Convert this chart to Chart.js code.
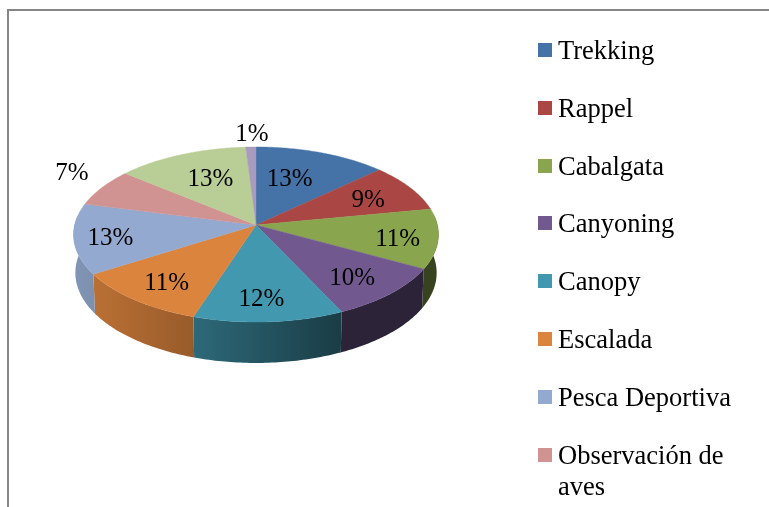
<!DOCTYPE html>
<html><head><meta charset="utf-8">
<style>html,body{margin:0;padding:0;background:#fff;overflow:hidden}canvas{display:block}</style>
<script src="https://cdn.jsdelivr.net/npm/chart.js@4"></script>
</head><body><canvas id="c" width="769" height="507"></canvas>
<script>
const categories = ["Trekking","Rappel","Cabalgata","Canyoning","Canopy","Escalada","Pesca Deportiva","Observación de aves"];
const shares = [13,9,11,10,12,11,13,7,13,1];
const sliceColors = ["#4572A7","#AA4643","#89A54E","#71588F","#4198AF","#DB843D","#93A9CF","#D19392","#B9CD96","#A99BBD"];
const labelNudgeX = [-7,18,33,18,-2,-19,-37,-90,1,-1];
const labelNudgeY = [-1,-2,6,14,19,15,5,-29,-2,-42];

const view = {cx:256, cy:225, a:181.4, b:86.5, k:0.1086, wallX0:74, wallX1:438};
function project(theta, r){
  const u = r*Math.sin(theta), v = -r*Math.cos(theta), w = 1 - view.k*v;
  return {x:view.cx + view.a*u/w, y:view.cy + view.b*v/w};
}
function lower(p){
  return {x:view.cx + (p.x-view.cx)*0.99, y:p.y + 38 + 0.03*(p.y-view.cy)};
}
function shade(hex, f){
  const n = parseInt(hex.slice(1),16);
  return `rgb(${Math.round((n>>16&255)*f)},${Math.round((n>>8&255)*f)},${Math.round((n&255)*f)})`;
}
const pie3d = {
  id:'pie3d',
  beforeDatasetsDraw(chart){
    const ctx = chart.ctx, arcs = chart.getDatasetMeta(0).data;
    ctx.save();
    // frame
    ctx.fillStyle = '#868686';
    ctx.fillRect(7,9,762,2);
    ctx.fillRect(7,9,2,498);
    // walls
    const wallA = Math.acos(view.k), wallB = 2*Math.PI - wallA;
    arcs.forEach((arc,i)=>{
      const s = Math.max(arc.startAngle+Math.PI/2, wallA), e = Math.min(arc.endAngle+Math.PI/2, wallB);
      if (e <= s) return;
      const top = [], N = 48;
      for (let j=0;j<=N;j++) top.push(project(s+(e-s)*j/N,1));
      const g = ctx.createLinearGradient(view.wallX0,0,view.wallX1,0), c = sliceColors[i];
      g.addColorStop(0, shade(c,.88)); g.addColorStop(.32, shade(c,.7));
      g.addColorStop(.73, shade(c,.4)); g.addColorStop(1, shade(c,.4));
      ctx.fillStyle = g;
      ctx.beginPath();
      top.forEach((p,j)=> j?ctx.lineTo(p.x,p.y):ctx.moveTo(p.x,p.y));
      top.slice().reverse().forEach(p=>{const q=lower(p);ctx.lineTo(q.x,q.y);});
      ctx.closePath(); ctx.fill();
    });
    // top faces
    arcs.forEach((arc,i)=>{
      const s = arc.startAngle+Math.PI/2, e = arc.endAngle+Math.PI/2, N = 64;
      ctx.fillStyle = sliceColors[i];
      ctx.strokeStyle = sliceColors[i]; ctx.lineWidth = .4;
      ctx.beginPath(); ctx.moveTo(view.cx,view.cy);
      for (let j=0;j<=N;j++){const p=project(s+(e-s)*j/N,1);ctx.lineTo(p.x,p.y);}
      ctx.closePath(); ctx.fill(); ctx.stroke();
    });
    // labels
    ctx.fillStyle = '#000';
    ctx.font = '25px "Liberation Serif"';
    ctx.textAlign = 'center'; ctx.textBaseline = 'middle';
    const total = shares.reduce((a,b)=>a+b,0);
    arcs.forEach((arc,i)=>{
      const p = project((arc.startAngle+arc.endAngle)/2+Math.PI/2,.6);
      ctx.fillText(Math.round(shares[i]/total*100)+'%', p.x+labelNudgeX[i], p.y+labelNudgeY[i]);
    });
    // legend
    ctx.textAlign = 'left'; ctx.textBaseline = 'alphabetic';
    ctx.font = '26.5px "Liberation Serif"';
    categories.forEach((name,i)=>{
      const base = 59 + i*57.8;
      ctx.fillStyle = sliceColors[i];
      ctx.fillRect(538, Math.round(base-16), 14, 14);
      ctx.fillStyle = '#000';
      let line = '', y = base;
      name.split(' ').forEach(word=>{
        const t = line ? line+' '+word : word;
        if (ctx.measureText(t).width > 190){ctx.fillText(line,558,y); y += 31; line = word;}
        else line = t;
      });
      ctx.fillText(line,558,y);
    });
    ctx.restore();
    return false;
  }
};
new Chart(document.getElementById('c'),{
  type:'pie',
  data:{labels:categories,datasets:[{data:shares,backgroundColor:sliceColors}]},
  options:{responsive:false,animation:false,plugins:{legend:{display:false},tooltip:{enabled:false}}},
  plugins:[pie3d]
});
</script></body></html>
